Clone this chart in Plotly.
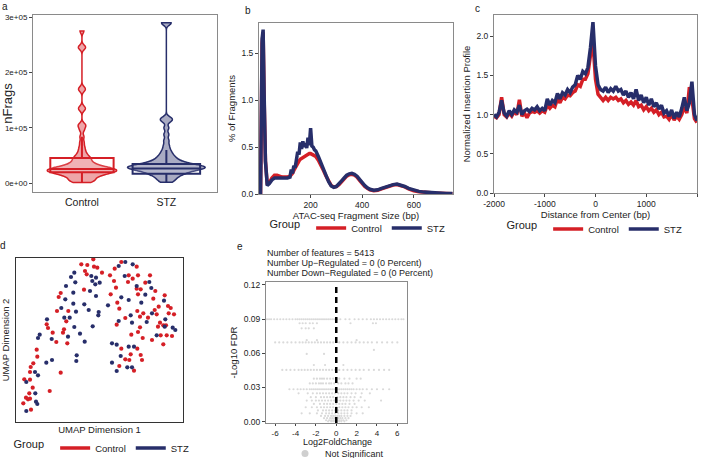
import plotly.graph_objects as go

FONT = "Liberation Sans, Arial, sans-serif"
RED = "#D51F26"
NAVY = "#272E6A"
RED_FILL = "rgba(213,31,38,0.40)"
NAVY_FILL = "rgba(39,46,106,0.40)"
FRAME = "#8a8a8a"

groups = ["Control", "STZ"]

# ---------------- panel a : nFrags per cell ----------------
nfrags_control = [1000, 2000, 3000, 4500, 6000, 7500, 9000, 10500, 12000, 13000, 14000, 15000,
                  16000, 17000, 18000, 18500, 19000, 19500, 20000, 20500, 21000, 21500, 22000,
                  22500, 23000, 23500, 24000, 24500, 25000, 25500, 26000, 26500, 27000, 27500,
                  28000, 29000, 30000, 31000, 32000, 33000, 34500, 36000, 38000, 40000, 42000,
                  44000, 46000, 48000, 51000, 55000, 60000, 66000, 74000, 84000, 96000, 103000,
                  106000, 133000, 137000, 168000, 172000, 244000, 247000, 275000]
nfrags_stz = [1500, 4000, 7000, 9500, 11500, 13500, 15000, 16500, 18000, 19000, 20000, 21000,
              22000, 23000, 24000, 25000, 25500, 26000, 26500, 27000, 27500, 28000, 28500, 29000,
              29500, 30000, 30500, 31000, 31500, 32000, 33000, 34000, 35000, 36000, 37000, 38500,
              40000, 42000, 44000, 46000, 49000, 52000, 56000, 61000, 68000, 77000, 88000, 100000,
              112000, 115000, 118000, 289000, 290000]
box_q1 = [19500, 17000]
box_median = [25500, 26500]
box_q3 = [45500, 34500]
box_lower = [1000, 1500]
box_upper = [84000, 60000]
nfrags_ticks = [0, 100000, 200000, 300000]
nfrags_ticktext = ["0e+00", "1e+05", "2e+05", "3e+05"]

# ---------------- panel b : fragment size distribution ----------------
frag_bp = [1, 6, 12, 16, 20, 25, 32, 40, 50, 60, 70, 80, 90, 100, 110, 120, 125, 130, 135, 140,
           145, 150, 155, 160, 165, 170, 175, 180, 185, 190, 195, 200, 205, 210, 215, 220, 230,
           240, 250, 260, 270, 280, 290, 300, 310, 320, 330, 340, 350, 360, 370, 380, 390, 400,
           410, 420, 430, 445, 460, 475, 490, 505, 520, 535, 550, 565, 580, 600, 620, 640, 660,
           680, 700, 725, 750]
frag_control = [0.0, 0.0, 1.60, 1.72, 1.00, 0.35, 0.10, 0.12, 0.17, 0.20, 0.20, 0.19, 0.18, 0.18,
                0.18, 0.19, 0.20, 0.22, 0.25, 0.28, 0.30, 0.33, 0.35, 0.37, 0.38, 0.39, 0.40, 0.41,
                0.42, 0.42, 0.43, 0.43, 0.42, 0.42, 0.41, 0.40, 0.36, 0.31, 0.25, 0.19, 0.13, 0.09,
                0.075, 0.08, 0.10, 0.13, 0.16, 0.19, 0.205, 0.21, 0.20, 0.18, 0.145, 0.11, 0.08,
                0.06, 0.045, 0.035, 0.04, 0.055, 0.07, 0.085, 0.095, 0.10, 0.09, 0.075, 0.055,
                0.035, 0.025, 0.018, 0.013, 0.01, 0.008, 0.005, 0.003]
frag_stz = [0.0, 0.0, 1.65, 1.75, 1.05, 0.35, 0.09, 0.11, 0.15, 0.17, 0.17, 0.17, 0.165, 0.17,
            0.17, 0.18, 0.26, 0.22, 0.30, 0.28, 0.40, 0.45, 0.42, 0.55, 0.48, 0.56, 0.50, 0.54,
            0.49, 0.60, 0.52, 0.70, 0.51, 0.50, 0.47, 0.46, 0.40, 0.33, 0.26, 0.19, 0.13, 0.085,
            0.07, 0.08, 0.105, 0.14, 0.17, 0.20, 0.215, 0.22, 0.21, 0.19, 0.155, 0.12, 0.09,
            0.065, 0.05, 0.04, 0.045, 0.06, 0.075, 0.09, 0.10, 0.105, 0.095, 0.08, 0.06, 0.04,
            0.028, 0.02, 0.015, 0.011, 0.009, 0.006, 0.004]

# ---------------- panel c : TSS insertion profile ----------------
tss_dist = [-2000, -1950, -1900, -1850, -1800, -1750, -1700, -1650, -1600, -1550, -1500, -1450,
            -1400, -1350, -1300, -1250, -1200, -1150, -1100, -1050, -1000, -950, -900, -850,
            -800, -750, -700, -650, -600, -550, -500, -450, -400, -350, -300, -250, -200, -150,
            -100, -50, 0, 50, 100, 150, 200, 250, 300, 350, 400, 450, 500, 550, 600, 650, 700,
            750, 800, 850, 900, 950, 1000, 1050, 1100, 1150, 1200, 1250, 1300, 1350, 1400, 1450,
            1500, 1550, 1600, 1650, 1700, 1750, 1800, 1850, 1900, 1950, 2000]
tss_stz = [1.00, 0.97, 1.03, 1.18, 1.02, 0.98, 1.05, 1.00, 1.06, 1.03, 1.12, 1.00, 1.05, 1.07,
           1.04, 1.08, 1.06, 1.10, 1.05, 1.08, 1.05, 1.20, 1.12, 1.18, 1.15, 1.27, 1.20, 1.28,
           1.25, 1.32, 1.28, 1.35, 1.38, 1.50, 1.45, 1.55, 1.52, 1.60, 1.85, 2.18, 1.62, 1.38,
           1.32, 1.30, 1.35, 1.28, 1.33, 1.30, 1.36, 1.30, 1.32, 1.25, 1.30, 1.22, 1.28, 1.20,
           1.32, 1.18, 1.25, 1.15, 1.22, 1.12, 1.20, 1.10, 1.15, 1.07, 1.12, 1.02, 1.05, 0.98,
           1.06, 0.95, 1.03, 0.97, 1.08, 1.22, 1.05, 1.15, 1.42, 1.00, 0.92]
tss_control = [0.98, 0.96, 1.00, 1.22, 1.00, 0.97, 1.02, 0.98, 1.04, 1.00, 1.19, 0.98, 1.02, 0.96,
               1.02, 1.04, 1.03, 1.05, 1.02, 1.05, 1.03, 1.12, 1.08, 1.12, 1.10, 1.20, 1.15, 1.22,
               1.20, 1.25, 1.24, 1.28, 1.30, 1.38, 1.36, 1.45, 1.45, 1.52, 1.75, 1.92, 1.45, 1.26,
               1.22, 1.18, 1.22, 1.18, 1.22, 1.20, 1.22, 1.18, 1.20, 1.15, 1.18, 1.13, 1.16, 1.12,
               1.18, 1.10, 1.12, 1.06, 1.10, 1.05, 1.08, 1.03, 1.06, 1.00, 1.03, 0.97, 0.98, 0.94,
               1.00, 0.93, 0.98, 0.94, 1.00, 1.10, 1.02, 1.35, 1.20, 0.95, 0.90]

# ---------------- panel d : UMAP ----------------
umap1_control = [-0.67, -1.87, -1.27, -0.6, -0.27, -1.5, -1.33, -1.6, -3.93, -4.13, -4.3, -3.17,
                 -3.37, -5.33, -5.2, -3.6, -4.73, -3.7, -4.37, -3.27, -6.33, -6.27, -6.67, -6.93,
                 -7.0, -3.93, -7.57, -7.0, -6.73, -5.03, -7.07, -7.4, -7.2, -7.0, -7.67, -6.9,
                 2.13, 1.47, 0.2, 3.67, 1.0, 2.87, 3.8, 5.0, 3.27, 1.4, 2.8, 4.53, 1.6, 3.67, 4.07,
                 5.53, 1.07, 3.8, 6.47, 5.33, 1.73, 6.8, 5.87, 7.07, 1.93, 3.73, 5.47, 4.33, 6.87,
                 7.4, 4.0, 4.8, 5.67, 2.53, 6.0, 6.33, 1.67, 5.8, 6.6, 4.0, 3.8, 3.13, 6.07, 6.67,
                 7.2, 4.27, 5.2, 6.33, 2.13, 3.73, 3.07, 4.07, 2.53, 2.93, 4.2, 1.93, 3.4]
umap2_control = [9.07, 8.57, 8.5, 8.33, 8.23, 7.9, 7.57, 6.03, 5.7, 5.3, 3.9, 3.9, 2.87, 2.57,
                 2.2, 2.07, 1.73, 1.73, 0.8, 0.67, 0.03, -0.67, -1.33, -1.7, -2.2, -2.27, -2.93,
                 -2.97, -3.77, -4.1, -4.33, -4.77, -4.93, -4.87, -5.33, -5.97,
                 8.8, 8.13, 7.73, 8.33, 7.47, 7.47, 7.47, 7.47, 7.13, 6.9, 6.8, 6.73, 6.23, 6.13,
                 6.07, 5.9, 5.57, 5.57, 5.47, 5.13, 4.73, 4.4, 4.33, 4.2, 4.13, 3.9, 4.0, 3.67,
                 3.67, 3.57, 3.33, 3.23, 3.57, 3.2, 2.73, 2.47, 2.53, 2.33, 2.47, 2.27, 1.8, 1.53,
                 1.47, 1.47, 1.4, 1.2, 1.0, 0.57, 0.13, 0.13, -0.43, -0.5, -0.93, -1.0, -1.0,
                 -1.6, -2.07]
umap1_stz = [-2.57, -2.9, -0.87, -0.4, -0.77, -0.47, -2.47, -3.4, -1.0, -2.67, -0.4, -3.47,
             -2.67, -1.57, -3.87, -2.4, -1.13, -0.13, -0.17, -3.57, -3.03, -5.3, -2.57, -0.73,
             -6.03, -6.2, -2.0, -3.2, -4.83, -1.53, -2.33, -2.37, -4.8, -5.37, -6.5, -6.2, -7.37,
             -6.47, -6.4, -6.27, -7.37,
             2.53, 3.27, 1.87, 2.47, -0.03, 4.93, 3.67, 5.13, 4.53, 2.13, 2.87, 6.4, 4.13, 0.8,
             5.2, 3.07, 6.53, 1.87, 4.67, 3.2, 6.47, 7.27, 7.53, 5.67, 1.2, 1.67, 2.87, 3.4,
             2.07, 1.2, 1.67, 2.73, 3.2]
umap2_stz = [7.73, 7.3, 7.4, 7.23, 6.9, 6.57, 6.77, 6.4, 5.9, 5.73, 5.4, 5.07, 4.63, 4.57, 4.2,
             3.83, 4.0, 3.8, 3.47, 3.23, 3.23, 3.07, 2.3, 2.37, 1.53, 1.2, 1.63, 1.33, 1.1, 0.83,
             -0.53, -1.1, -1.0, -1.27, -2.2, -2.53, -3.2, -4.33, -5.17, -5.4, -6.1,
             8.8, 8.57, 8.4, 7.4, 6.73, 6.8, 6.4, 6.2, 5.53, 5.27, 5.0, 4.93, 4.73, 4.47, 3.67,
             3.47, 3.07, 2.9, 2.8, 2.73, 2.33, 2.23, 2.0, 1.47, 0.67, 0.53, 0.33, 0.33, -0.6,
             -1.27, -2.1, -1.73, -1.73]

# ---------------- panel e : volcano ----------------
fdr_levels = [0.0898, 0.0863, 0.0819, 0.0715, 0.0695, 0.0629, 0.0594, 0.0497, 0.0454, 0.0377,
              0.0335, 0.0284, 0.0248, 0.0215, 0.0185, 0.0155, 0.0126, 0.0098, 0.0073, 0.0050,
              0.0030, 0.0012, 0.0003]
fc_by_level = [
    [-6.8, -6.6, -6.4, -6.1, -5.8, -5.5, -5.2, -4.9, -4.6, -4.3, -4.0, -3.8, -3.6, -3.4, -3.2,
     -3.0, -2.8, -2.6, -2.4, -2.2, -2.0, -1.8, -1.6, -1.4, -1.2, -1.0, -0.8, -0.6, -0.4, -0.2,
     0.1, 0.4, 0.9, 1.3, 1.8, 2.2, 2.6, 3.0, 3.4, 3.7, 4.0, 4.3, 4.6, 4.9, 5.2, 5.5, 5.8, 6.1,
     6.4, 6.6],
    [-3.6, -3.3, -3.0, -2.6, -2.3, -1.9, 1.4, 3.6, 3.9],
    [-3.4, -3.0, -2.7, -2.2],
    [-2.9, -1.9, 2.0],
    [-6.0, -5.6, -5.2, -4.8, -4.4, -4.0, -3.6, -3.3, -3.0, -2.7, -2.4, -2.1, -1.8, -1.5, -1.2,
     -0.9, -0.6, -0.3, 0.3, 0.7, 1.1, 1.5, 1.9, 2.3, 2.7, 3.1, 3.5, 4.0, 4.5, 5.0, 5.5, 6.0],
    [3.7],
    [-2.9, -1.2],
    [-2.2, -1.1, 0.7],
    [-5.3, -4.9, -4.5, -4.1, -3.7, -3.4, -3.1, -2.8, -2.5, -2.2, -1.9, -1.6, -1.3, -1.0, -0.7,
     -0.4, -0.1, 0.3, 0.7, 1.1, 1.5, 1.9, 2.3, 2.7, 3.2, 3.7, 4.2, 4.7, 5.2],
    [-2.2, -1.9, -1.6, -1.4, -1.2, -0.9, -0.6, -0.3, 0.3, 0.8, 1.3, 2.0, 2.4],
    [-2.6, -2.3, -2.0, -1.7, -1.5, -1.3, -1.0, -0.7, -0.5, -0.2, 0.2, 0.5, 0.9, 1.2, 1.6],
    [-4.6, -4.2, -3.8, -3.5, -3.2, -2.9, -2.6, -2.4, -2.2, -2.0, -1.8, -1.6, -1.4, -1.2, -1.0,
     -0.8, -0.6, -0.4, -0.2, 0.1, 0.3, 0.5, 0.7, 0.9, 1.1, 1.3, 1.5, 1.7, 2.0, 2.3, 2.6, 3.0,
     3.5, 4.0, 4.6, 5.2],
    [-3.7, -2.8, -2.3, -1.9, -1.6, -1.3, -1.0, -0.7, -0.4, -0.1, 0.2, 0.5, 0.8, 1.1, 1.5, 1.9,
     2.5, 3.3],
    [-2.5, -2.0, -1.5, -1.2, -0.9, -0.6, -0.3, 0.1, 0.4, 0.7, 1.0, 1.4, 1.8, 2.4],
    [-2.9, -2.4, -2.0, -1.7, -1.4, -1.1, -0.8, -0.5, -0.2, 0.1, 0.4, 0.7, 1.0, 1.3, 1.7, 2.2,
     2.8, 4.4],
    [-2.2, -1.6, -1.2, -0.9, -0.6, -0.3, 0.0, 0.3, 0.6, 0.9, 1.3, 1.8],
    [-3.0, -2.4, -1.9, -1.5, -1.2, -0.9, -0.6, -0.3, 0.0, 0.3, 0.6, 0.9, 1.2, 1.6, 2.0, 2.5, 3.2],
    [-1.8, -1.3, -1.0, -0.7, -0.4, -0.1, 0.2, 0.5, 0.8, 1.1, 1.5],
    [-3.4, -2.6, -1.9, -1.4, -1.0, -0.7, -0.4, -0.1, 0.2, 0.5, 0.8, 1.1, 1.5, 2.0, 2.6],
    [-1.5, -1.1, -0.8, -0.5, -0.3, -0.1, 0.1, 0.3, 0.5, 0.8, 1.1, 1.4],
    [-1.2, -0.9, -0.6, -0.4, -0.2, 0.0, 0.2, 0.4, 0.6, 0.9, 1.2],
    [-1.0, -0.7, -0.5, -0.3, -0.1, 0.1, 0.3, 0.5, 0.7, 1.0],
    [-0.8, -0.5, -0.3, -0.1, 0.1, 0.3, 0.5, 0.8],
]
volcano_title = ["Number of features = 5413",
                 "Number Up\u2212Regulated = 0 (0 Percent)",
                 "Number Down\u2212Regulated = 0 (0 Percent)"]

volc_x, volc_y = [], []
for lvl, fcs in zip(fdr_levels, fc_by_level):
    for v in fcs:
        volc_x.append(v)
        volc_y.append(lvl)

fig = go.Figure()

# ---- a ----
for name, vals, col, fill, w in [(groups[0], nfrags_control, RED, RED_FILL, 0.82),
                                 (groups[1], nfrags_stz, NAVY, NAVY_FILL, 0.92)]:
    fig.add_trace(go.Violin(x=[name] * len(vals), y=vals, xaxis="x", yaxis="y",
                            line=dict(color=col, width=1.5), fillcolor=fill,
                            points=False, spanmode="hard", bandwidth=4000,
                            scalemode="width", width=w, showlegend=False,
                            hoverinfo="skip"))
for i, (col, w) in enumerate([(RED, 0.75), (NAVY, 0.8)]):
    fig.add_trace(go.Box(x=[groups[i]], q1=[box_q1[i]], median=[box_median[i]],
                         q3=[box_q3[i]], lowerfence=[box_lower[i]],
                         upperfence=[box_upper[i]], xaxis="x", yaxis="y",
                         line=dict(color=col, width=2), fillcolor="rgba(255,255,255,0.15)",
                         boxpoints=False, width=w, whiskerwidth=0, showlegend=False,
                         hoverinfo="skip"))

# ---- b ----
for name, vals, col in [(groups[0], frag_control, RED), (groups[1], frag_stz, NAVY)]:
    fig.add_trace(go.Scatter(x=frag_bp, y=vals, mode="lines", name=name,
                             line=dict(color=col, width=3.5), xaxis="x2", yaxis="y2",
                             legend="legend"))

# ---- c ----
for name, vals, col in [(groups[0], tss_control, RED), (groups[1], tss_stz, NAVY)]:
    fig.add_trace(go.Scatter(x=tss_dist, y=vals, mode="lines", name=name,
                             line=dict(color=col, width=3.5), xaxis="x3", yaxis="y3",
                             legend="legend2"))

# ---- d ----
for name, ux, uy, col in [(groups[0], umap1_control, umap2_control, RED),
                          (groups[1], umap1_stz, umap2_stz, NAVY)]:
    fig.add_trace(go.Scatter(x=ux, y=uy, mode="markers", name=name,
                             marker=dict(color=col, size=4.2), xaxis="x4", yaxis="y4",
                             showlegend=False))
for name, col in [(groups[0], RED), (groups[1], NAVY)]:
    fig.add_trace(go.Scatter(x=[None], y=[None], mode="lines", name=name,
                             line=dict(color=col, width=3.5), xaxis="x4", yaxis="y4",
                             legend="legend3"))

# ---- e ----
fig.add_trace(go.Scatter(x=volc_x, y=volc_y, mode="markers", name="Not Significant",
                         marker=dict(color="#dadada", size=2.2), xaxis="x5", yaxis="y5",
                         showlegend=False))
fig.add_trace(go.Scatter(x=[None], y=[None], mode="markers", name="Not Significant",
                         marker=dict(color="#cfcfcf", size=7), xaxis="x5", yaxis="y5",
                         legend="legend4"))


def px_x(p):
    return p / 705.0


def px_y(p):
    return 1 - p / 458.0


axis_common = dict(showgrid=False, zeroline=False, showline=True, mirror=True,
                   linecolor=FRAME, linewidth=1, ticks="outside", ticklen=3,
                   tickcolor="#444", tickwidth=1, tickfont=dict(size=8.5, color="#222"),
                   title_font=dict(size=9.5, color="#222"), automargin=False)

fig.update_layout(
    width=705, height=458, margin=dict(l=0, r=0, t=0, b=0, autoexpand=False),
    paper_bgcolor="white", plot_bgcolor="white",
    font=dict(family=FONT, color="#222"),
    violinmode="overlay", boxmode="overlay",
    xaxis=dict(axis_common, domain=[px_x(33), px_x(217)], anchor="y", type="category",
               range=[-0.58, 1.6], tickfont=dict(size=10.5, color="#222"), ticks=""),
    yaxis=dict(axis_common, domain=[px_y(192), px_y(15)], anchor="x",
               range=[-16000, 304000], tickvals=nfrags_ticks, ticktext=nfrags_ticktext,
               title=dict(text="nFrags", font=dict(size=13), standoff=4),
               tickfont=dict(size=8, color="#222")),
    xaxis2=dict(axis_common, domain=[px_x(259), px_x(453)], anchor="y2", range=[0, 752],
                tickvals=[200, 400, 600],
                title=dict(text="ATAC-seq Fragment Size (bp)", standoff=0)),
    yaxis2=dict(axis_common, domain=[px_y(194), px_y(23)], anchor="x2", range=[0, 1.82],
                tickvals=[0, 0.5, 1.0, 1.5], ticktext=["0.0", "0.5", "1.0", "1.5"],
                title=dict(text="% of Fragments", standoff=4)),
    xaxis3=dict(axis_common, domain=[px_x(494), px_x(697)], anchor="y3", range=[-2000, 2000],
                tickvals=[-2000, -1000, 0, 1000, 2000],
                ticktext=["-2000", "-1000", "0", "1000", "2000"],
                title=dict(text="Distance from Center (bp)", standoff=0)),
    yaxis3=dict(axis_common, domain=[px_y(193), px_y(15)], anchor="x3", range=[0, 2.27],
                tickvals=[0, 0.5, 1.0, 1.5, 2.0], ticktext=["0.0", "0.5", "1.0", "1.5", "2.0"],
                title=dict(text="Normalized Insertion Profile", standoff=4)),
    xaxis4=dict(axis_common, domain=[px_x(16), px_x(183)], anchor="y4", range=[-8.4, 8.3],
                showticklabels=False, ticks="", linecolor="#333",
                title=dict(text="UMAP Dimension 1", standoff=4)),
    yaxis4=dict(axis_common, domain=[px_y(422), px_y(258)], anchor="x4", range=[-7.2, 9.2],
                showticklabels=False, ticks="", linecolor="#333",
                title=dict(text="UMAP Dimension 2", standoff=3)),
    xaxis5=dict(axis_common, domain=[px_x(266), px_x(406.5)], anchor="y5", range=[-6.9, 6.9],
                tickvals=[-6, -4, -2, 0, 2, 4, 6], ticklen=2,
                ticktext=["-6", "-4", "-2", "0", "2", "4", "6"],
                tickfont=dict(size=8, color="#222")),
    yaxis5=dict(axis_common, domain=[px_y(423), px_y(282)], anchor="x5",
                range=[-0.0012, 0.1225],
                tickvals=[0, 0.03, 0.06, 0.09, 0.12],
                ticktext=["0.00", "0.03", "0.06", "0.09", "0.12"],
                title=dict(text="-Log10 FDR", standoff=4)),
    legend=dict(orientation="h", x=px_x(359), y=px_y(228), xanchor="center", yanchor="middle",
                title=dict(text="Group ", side="left"), font=dict(size=9.5),
                itemwidth=30, bgcolor="rgba(0,0,0,0)"),
    legend2=dict(orientation="h", x=px_x(596), y=px_y(229), xanchor="center",
                 yanchor="middle", title=dict(text="Group ", side="left"),
                 font=dict(size=9.5), itemwidth=30, bgcolor="rgba(0,0,0,0)"),
    legend3=dict(orientation="h", x=px_x(103), y=px_y(448), xanchor="center",
                 yanchor="middle", title=dict(text="Group ", side="left"),
                 font=dict(size=9.5), itemwidth=30, bgcolor="rgba(0,0,0,0)"),
    legend4=dict(orientation="h", x=px_x(337), y=px_y(453.5), xanchor="center",
                 yanchor="middle", font=dict(size=9), itemwidth=30,
                 bgcolor="rgba(0,0,0,0)"),
)

# x-axis title of the volcano panel placed as text between tick labels and legend
fig.add_annotation(text="Log2FoldChange", x=px_x(337), y=px_y(441.5), xref="paper",
                   yref="paper", xanchor="center", yanchor="middle", showarrow=False,
                   font=dict(size=9, color="#222"))

# zero reference line in volcano
fig.add_shape(type="line", xref="x5", yref="y5 domain", x0=0, x1=0, y0=0, y1=0.98,
              line=dict(color="black", width=2.5, dash="6px,4px"))

# panel letters
for txt, x, y in [("a", 5, 6), ("b", 248, 10), ("c", 477, 8), ("d", 3, 245), ("e", 240, 246)]:
    fig.add_annotation(text=txt, x=px_x(x), y=px_y(y), xref="paper", yref="paper",
                       xanchor="center", yanchor="middle", showarrow=False,
                       font=dict(size=10, color="#222"))

# volcano title lines
for i, (line, y) in enumerate(zip(volcano_title, [253, 263, 273])):
    fig.add_annotation(text=line, x=px_x(265), y=px_y(y), xref="paper", yref="paper",
                       xanchor="left", yanchor="middle", showarrow=False,
                       font=dict(size=9, color="#222"))

fig.write_html("out.html",
               config={"displayModeBar": False, "staticPlot": True},
               post_script="document.body.style.margin='0px';"
                           "document.body.style.overflow='hidden';")
